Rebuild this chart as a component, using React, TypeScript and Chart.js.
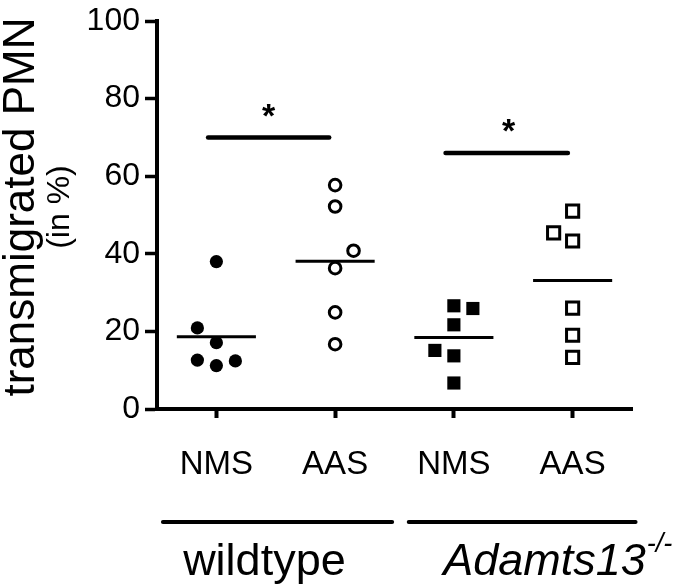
import React, { useEffect, useRef } from "react";
import { Chart, registerables } from "chart.js";

Chart.register(...registerables);

const FONT = "'Liberation Sans', Arial, Helvetica, sans-serif";

// categories along x (positions 1..4)
const categories = ["NMS", "AAS", "NMS", "AAS"];
const groupNames = ["wildtype", "Adamts13"];
const groupSup = "-/-";
const yTickValues = [0, 20, 40, 60, 80, 100];

// individual values (transmigrated PMN, %)
const wtNms = [38, 20.9, 17.1, 12.6, 11.2, 12.4];
const wtNmsJitter = [0, -0.16, 0, -0.16, 0, 0.16];
const wtAas = [57.7, 52.2, 40.8, 36.3, 24.9, 16.7];
const wtAasJitter = [0, 0, 0.155, 0, 0, 0];
const koNms = [26.6, 25.9, 21.7, 15.1, 13.7, 6.7];
const koNmsJitter = [0, 0.16, 0, -0.16, 0, 0];
const koAas = [51.0, 45.4, 43.3, 26.0, 19.0, 13.3];
const koAasJitter = [0, -0.16, 0, 0, 0, 0];

// group means (horizontal bars)
const means = [18.6, 38.1, 18.4, 33.1];
const meanHalfWidth = 0.333;

// significance bars
const sigFrom = [0.93, 2.93];
const sigTo = [1.95, 3.96];
const sigLevel = [70, 66];
const sigStarX = [1.44, 3.46];
const sigStarY = [75, 71.3];

// genotype group underline spans (x units)
const groupLineFrom = [0.55, 2.62];
const groupLineTo = [2.48, 4.53];
const groupLabelStart = [0.72, 2.91];

function pts(vals: number[], jit: number[], pos: number) {
  return vals.map((v, i) => ({ x: pos + jit[i], y: v }));
}

const extrasPlugin = {
  id: "extras",
  afterDraw(chart: any) {
    const ctx = chart.ctx;
    const xs = chart.scales.x;
    const ys = chart.scales.y;
    ctx.save();
    ctx.fillStyle = "#000";
    ctx.strokeStyle = "#000";

    // y-axis title
    const cy = (ys.top + ys.bottom) / 2;
    ctx.save();
    ctx.translate(34, cy - 8);
    ctx.rotate(-Math.PI / 2);
    ctx.font = `44px ${FONT}`;
    ctx.textAlign = "center";
    ctx.textBaseline = "alphabetic";
    ctx.fillText("transmigrated PMN", 0, 0);
    ctx.restore();

    ctx.save();
    ctx.translate(69, cy - 8);
    ctx.rotate(-Math.PI / 2);
    ctx.font = `32px ${FONT}`;
    ctx.textAlign = "center";
    ctx.textBaseline = "alphabetic";
    ctx.fillText("(in %)", 0, 0);
    ctx.restore();

    // stars
    ctx.font = `bold 34px ${FONT}`;
    ctx.textAlign = "center";
    ctx.textBaseline = "middle";
    for (let i = 0; i < sigStarX.length; i++) {
      ctx.fillText("*", xs.getPixelForValue(sigStarX[i]), ys.getPixelForValue(sigStarY[i]));
    }

    // group underlines
    const lineY = ys.bottom + 113;
    ctx.lineWidth = 4;
    ctx.lineCap = "round";
    for (let i = 0; i < groupLineFrom.length; i++) {
      ctx.beginPath();
      ctx.moveTo(xs.getPixelForValue(groupLineFrom[i]), lineY);
      ctx.lineTo(xs.getPixelForValue(groupLineTo[i]), lineY);
      ctx.stroke();
    }

    // group labels
    const labY = ys.bottom + 166;
    ctx.textAlign = "left";
    ctx.textBaseline = "alphabetic";
    ctx.font = `45px ${FONT}`;
    ctx.fillText(groupNames[0], xs.getPixelForValue(groupLabelStart[0]), labY);
    ctx.font = `italic 45px ${FONT}`;
    const x2 = xs.getPixelForValue(groupLabelStart[1]);
    ctx.fillText(groupNames[1], x2, labY);
    const w = ctx.measureText(groupNames[1]).width;
    ctx.font = `italic 27px ${FONT}`;
    ctx.fillText(groupSup, x2 + w + 1, labY - 23);

    ctx.restore();
  },
};

export default function App() {
  const ref = useRef<HTMLCanvasElement | null>(null);

  useEffect(() => {
    if (!ref.current) return;
    const lineDs = (data: any[], width: number, cap: string) => ({
      data,
      showLine: true,
      borderColor: "#000",
      borderWidth: width,
      borderCapStyle: cap,
      pointRadius: 0,
      pointHoverRadius: 0,
      fill: false,
    });

    const datasets: any[] = [
      {
        data: pts(wtNms, wtNmsJitter, 1),
        pointStyle: "circle",
        pointRadius: 6.6,
        pointBackgroundColor: "#000",
        pointBorderColor: "#000",
        pointBorderWidth: 0,
      },
      {
        data: pts(wtAas, wtAasJitter, 2),
        pointStyle: "circle",
        pointRadius: 5.8,
        pointBackgroundColor: "#fff",
        pointBorderColor: "#000",
        pointBorderWidth: 3,
      },
      {
        data: pts(koNms, koNmsJitter, 3),
        pointStyle: "rect",
        pointRadius: 9.3,
        pointBackgroundColor: "#000",
        pointBorderColor: "#000",
        pointBorderWidth: 0,
      },
      {
        data: pts(koAas, koAasJitter, 4),
        pointStyle: "rect",
        pointRadius: 8.6,
        pointBackgroundColor: "#fff",
        pointBorderColor: "#000",
        pointBorderWidth: 3,
      },
    ];
    means.forEach((m, i) => {
      datasets.push(
        lineDs(
          [
            { x: i + 1 - meanHalfWidth, y: m },
            { x: i + 1 + meanHalfWidth, y: m },
          ],
          3,
          "butt"
        )
      );
    });
    sigLevel.forEach((lv, i) => {
      datasets.push(
        lineDs(
          [
            { x: sigFrom[i], y: lv },
            { x: sigTo[i], y: lv },
          ],
          4.5,
          "round"
        )
      );
    });

    const chart = new Chart(ref.current, {
      type: "scatter",
      data: { datasets },
      options: {
        responsive: false,
        devicePixelRatio: 1,
        animation: false,
        layout: { padding: { top: 0, right: 43, bottom: 0, left: 0 } },
        plugins: { legend: { display: false }, tooltip: { enabled: false } },
        events: [],
        scales: {
          x: {
            type: "linear",
            min: 0.5,
            max: 4.5,
            afterBuildTicks: (scale: any) => {
              scale.ticks = categories.map((_, i) => ({ value: i + 1 }));
            },
            afterFit: (scale: any) => {
              scale.height = 179;
            },
            ticks: {
              autoSkip: false,
              maxRotation: 0,
              padding: 27,
              color: "#000",
              font: { family: FONT, size: 33, lineHeight: 1.2 },
              callback: (v: any) => categories[Math.round(v) - 1] ?? "",
            },
            grid: {
              display: true,
              drawOnChartArea: false,
              drawTicks: true,
              tickLength: 9,
              tickWidth: 4,
              color: "#000",
            },
            border: { display: true, color: "#000", width: 4 },
          },
          y: {
            type: "linear",
            min: 0,
            max: 100,
            afterBuildTicks: (scale: any) => {
              scale.ticks = yTickValues.map((v) => ({ value: v }));
            },
            afterFit: (scale: any) => {
              scale.width = 157;
            },
            ticks: {
              padding: 5,
              color: "#000",
              font: { family: FONT, size: 32, lineHeight: 1 },
            },
            grid: {
              display: true,
              drawOnChartArea: false,
              drawTicks: true,
              tickLength: 12,
              tickWidth: 3.5,
              color: "#000",
            },
            border: { display: true, color: "#000", width: 4 },
          },
        },
      } as any,
      plugins: [extrasPlugin],
    });
    return () => chart.destroy();
  }, []);

  return (
    <div style={{ position: "absolute", left: 0, top: 0, width: 675, height: 588, background: "#fff" }}>
      <canvas ref={ref} width={675} height={588} style={{ display: "block" }} />
    </div>
  );
}
